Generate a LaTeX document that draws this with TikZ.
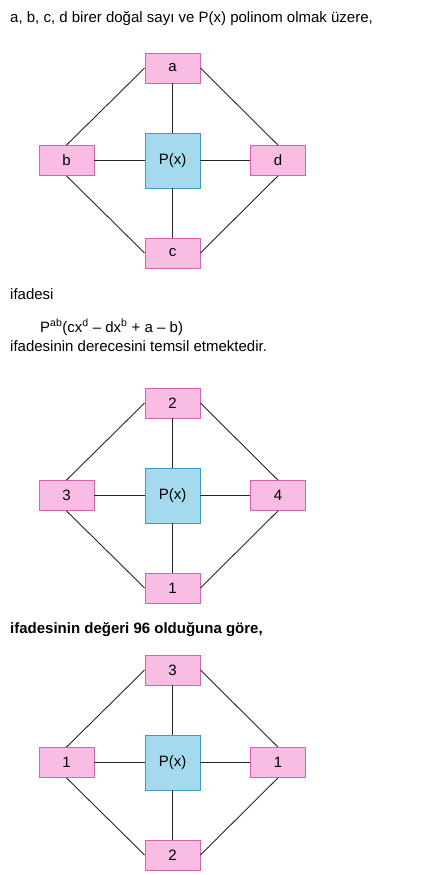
\documentclass[tikz,border=0pt]{standalone}
\usepackage{fontspec}
\setmainfont{Liberation Sans}
\definecolor{pembe}{RGB}{249,188,227}
\definecolor{pembecizgi}{RGB}{222,96,172}
\definecolor{mavi}{RGB}{165,217,238}
\definecolor{mavicizgi}{RGB}{58,156,203}
\tikzset{
  yazi/.style={anchor=base west, inner sep=0pt, font=\fontsize{15}{18}\selectfont},
  harf/.style={draw=pembecizgi, fill=pembe, line width=0.8pt, minimum width=55pt, minimum height=30pt, inner sep=0pt, font=\fontsize{15}{18}\selectfont},
  kutu/.style={draw=mavicizgi, fill=mavi, line width=0.8pt, minimum width=55pt, minimum height=55pt, inner sep=0pt, font=\fontsize{15}{18}\selectfont},
  bag/.style={draw=black!85, line width=0.9pt}
}
\begin{document}
\begin{tikzpicture}[x=1pt,y=-1pt]
\useasboundingbox (0,0) rectangle (426,875);
% metin
\node[yazi] (t1) at (10,22.7) {a, b, c, d birer doğal sayı ve P(x) polinom olmak üzere,};
\node[yazi] (t2) at (10,299) {ifadesi};
\node[yazi] (t3) at (40,332) {P\textsuperscript{ab}(cx\textsuperscript{d} – dx\textsuperscript{b} + a – b)};
\node[yazi] (t4) at (10,351.5) {ifadesinin derecesini temsil etmektedir.};
\node[yazi, font=\fontsize{15}{18}\selectfont\bfseries] (t5) at (10,633) {ifadesinin değeri 96 olduğuna göre,};
% diyagramlar
\foreach \n/\py/\ust/\sol/\sag/\alt in {1/160.5/a/b/d/c, 2/495.5/2/3/4/1, 3/762.5/3/1/1/2}{
  \node[kutu] (p\n) at (172.5,\py) {P(x)};
  \node[harf] (u\n) at (172.5,\py-92.5) {\ust};
  \node[harf] (s\n) at (66.5,\py) {\sol};
  \node[harf] (r\n) at (278,\py) {\sag};
  \node[harf] (a\n) at (172.5,\py+92.5) {\alt};
  \draw[bag] (s\n) -- (p\n) -- (r\n);
  \draw[bag] (u\n) -- (p\n) -- (a\n);
  \draw[bag] (u\n.west) -- (s\n.north);
  \draw[bag] (u\n.east) -- (r\n.north);
  \draw[bag] (s\n.south) -- (a\n.west);
  \draw[bag] (r\n.south) -- (a\n.east);
}
\end{tikzpicture}
\end{document}
